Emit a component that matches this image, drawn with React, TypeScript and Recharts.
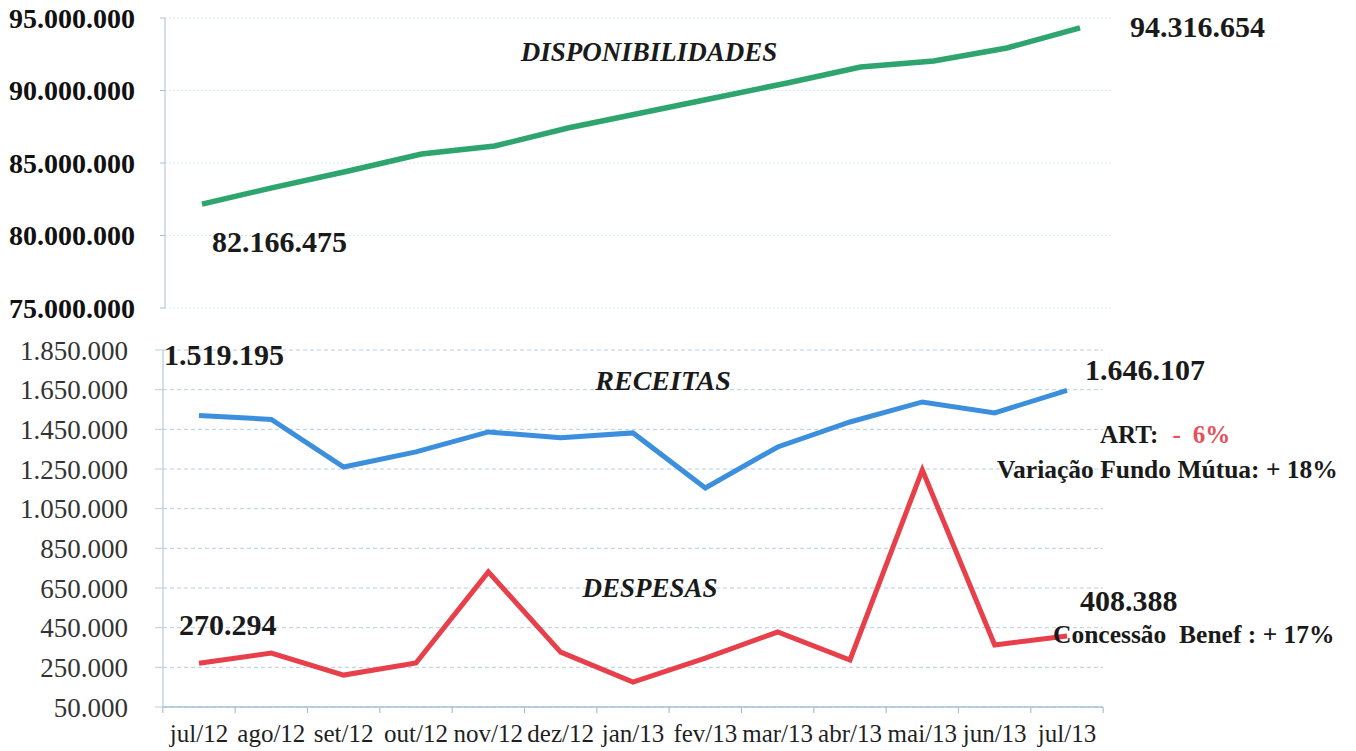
import React from 'react';
import { LineChart, Line, XAxis, YAxis, CartesianGrid } from 'recharts';

const categories = ['jul/12', 'ago/12', 'set/12', 'out/12', 'nov/12', 'dez/12', 'jan/13', 'fev/13', 'mar/13', 'abr/13', 'mai/13', 'jun/13', 'jul/13'];
const disponibilidades = [82166475, 83340000, 84450000, 85620000, 86170000, 87410000, 88450000, 89480000, 90520000, 91620000, 92030000, 92930000, 94316654];
const receitas = [1519195, 1500000, 1260000, 1336000, 1437000, 1407000, 1432000, 1154000, 1361000, 1487000, 1588000, 1533000, 1646107];
const despesas = [270294, 322000, 211000, 272000, 731000, 327000, 176000, 297000, 428000, 287000, 1245000, 363000, 408388];
const topTicks = [75000000, 80000000, 85000000, 90000000, 95000000];
const bottomTicks = [50000, 250000, 450000, 650000, 850000, 1050000, 1250000, 1450000, 1650000, 1850000];

const topData = categories.map((m, i) => ({ month: m, disp: disponibilidades[i] }));
const bottomData = categories.map((m, i) => ({ month: m, rec: receitas[i], desp: despesas[i] }));

const FONT = '"Liberation Serif", "Times New Roman", serif';
const fmt = (v: number) => Math.round(v).toString().replace(/\B(?=(\d{3})+(?!\d))/g, '.');

const makeEndLabel = (last: number, first: { dx: number; dy: number }, end: { dx: number; dy: number }) => (props: any) => {
  const { x, y, index, value } = props;
  const style = { fontFamily: FONT, fontSize: 30, fontWeight: 'bold' as const, fill: '#1a1a1a' };
  if (index === 0) {
    return <text x={x + first.dx} y={y + first.dy} textAnchor="start" style={style}>{fmt(value)}</text>;
  }
  if (index === last) {
    return <text x={x + end.dx} y={y + end.dy} textAnchor="start" style={style}>{fmt(value)}</text>;
  }
  return <g />;
};

const XTick = (props: any) => {
  const { x, y, payload, index } = props;
  const half = 36.2;
  return (
    <g>
      <line x1={x - half} y1={y} x2={x - half} y2={y + 6} stroke="#a9bfd9" strokeWidth={1.2} />
      {index === categories.length - 1 && (
        <line x1={x + half} y1={y} x2={x + half} y2={y + 6} stroke="#a9bfd9" strokeWidth={1.2} />
      )}
      <text x={x} y={y + 35} textAnchor="middle" style={{ fontFamily: FONT, fontSize: 25, fill: '#1f1f1f' }}>
        {payload.value}
      </text>
    </g>
  );
};

export default function App() {
  const last = categories.length - 1;
  const annot = { fontFamily: FONT, fontWeight: 'bold' as const, fill: '#1a1a1a' };
  return (
    <div style={{ position: 'absolute', left: 0, top: 0, width: 1356, height: 751, background: '#fff' }}>
      <div style={{ position: 'absolute', left: 0, top: 0 }}>
        <LineChart width={1356} height={330} data={topData} margin={{ top: 18, right: 244, left: 0, bottom: 22 }}>
          <CartesianGrid vertical={false} stroke="#dfe8f1" strokeDasharray="2 2" />
          <XAxis dataKey="month" hide padding={{ left: 37, right: 32 }} />
          <YAxis
            width={165}
            domain={[75000000, 95000000]}
            ticks={topTicks}
            interval={0}
            tickFormatter={fmt}
            axisLine={{ stroke: '#a9bfd9' }}
            tickLine={{ stroke: '#a9bfd9' }}
            tickSize={5}
            tickMargin={25}
            tick={{ fontFamily: FONT, fontSize: 28, fontWeight: 'bold', fill: '#111' }}
          />
          <Line
            dataKey="disp"
            stroke="#2ea56f"
            strokeWidth={5.5}
            dot={false}
            isAnimationActive={false}
            label={makeEndLabel(last, { dx: 10, dy: 48 }, { dx: 50, dy: 9 })}
          />
        </LineChart>
      </div>
      <div style={{ position: 'absolute', left: 0, top: 330 }}>
        <LineChart width={1356} height={421} data={bottomData} margin={{ top: 20, right: 253, left: 0, bottom: 0 }}>
          <CartesianGrid vertical={false} stroke="#b9cde5" strokeDasharray="4 3" />
          <XAxis
            dataKey="month"
            height={44}
            padding={{ left: 36, right: 36 }}
            interval={0}
            axisLine={{ stroke: '#a9bfd9', strokeWidth: 1.5 }}
            tickLine={false}
            tickSize={0}
            tickMargin={0}
            tick={<XTick />}
          />
          <YAxis
            width={163}
            domain={[50000, 1850000]}
            ticks={bottomTicks}
            interval={0}
            tickFormatter={fmt}
            axisLine={{ stroke: '#a9bfd9' }}
            tickLine={{ stroke: '#b9cde5' }}
            tickSize={8}
            tickMargin={27}
            tick={{ fontFamily: FONT, fontSize: 27, fill: '#333' }}
          />
          <Line
            dataKey="rec"
            stroke="#3b8fdc"
            strokeWidth={5}
            dot={false}
            isAnimationActive={false}
            label={makeEndLabel(last, { dx: -35, dy: -51 }, { dx: 18, dy: -10 })}
          />
          <Line
            dataKey="desp"
            stroke="#e8404a"
            strokeWidth={5}
            dot={false}
            isAnimationActive={false}
            label={makeEndLabel(last, { dx: -20, dy: -28 }, { dx: 13, dy: -25 })}
          />
        </LineChart>
      </div>
      <svg width={1356} height={751} style={{ position: 'absolute', left: 0, top: 0, pointerEvents: 'none' }}>
        <text x={649} y={61} textAnchor="middle" style={{ ...annot, fontSize: 27, fontStyle: 'italic' }}>DISPONIBILIDADES</text>
        <text x={663} y={390} textAnchor="middle" style={{ ...annot, fontSize: 28, fontStyle: 'italic' }}>RECEITAS</text>
        <text x={650} y={597} textAnchor="middle" style={{ ...annot, fontSize: 27, fontStyle: 'italic' }}>DESPESAS</text>
        <text x={1100} y={443} style={{ ...annot, fontSize: 25 }}>
          ART:
          <tspan dx={14} style={{ fill: '#e6505a' }}>-</tspan>
          <tspan dx={12} style={{ fill: '#e6505a' }}>6%</tspan>
        </text>
        <text x={997} y={478} style={{ ...annot, fontSize: 25.5 }}>Variação Fundo Mútua: + 18%</text>
        <text x={1053} y={643} style={{ ...annot, fontSize: 25.5, whiteSpace: 'pre' }}>{'Concessão  Benef : + 17%'}</text>
      </svg>
    </div>
  );
}
